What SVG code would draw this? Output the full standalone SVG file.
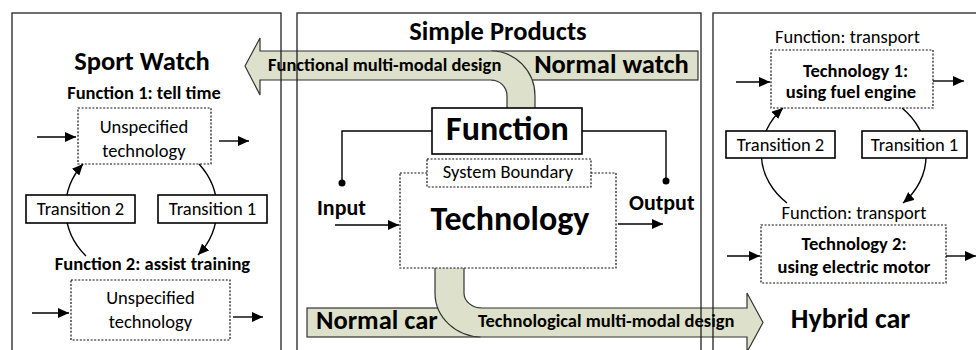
<svg xmlns="http://www.w3.org/2000/svg" width="976" height="350" viewBox="0 0 976 350">
  <style>
    text { font-family: Carlito, Lato, "Liberation Sans", sans-serif; fill: #000; }
    .b { font-weight: bold; }
    .c { text-anchor: middle; }
    .n18 { font-size: 18.5px; }
    .t26 { font-size: 26.5px; font-weight: bold; }
    .t34 { font-size: 34px; font-weight: bold; }
    .t22 { font-size: 22px; font-weight: bold; }
    .panel { fill: none; stroke: #222; stroke-width: 1.3; }
    .dot { fill: #fff; stroke: #111; stroke-width: 1.2; stroke-dasharray: 2 1.6; }
    .solid { fill: #fff; stroke: #000; stroke-width: 1.6; }
    .big { fill: #dde0ca; stroke: #333; stroke-width: 1.2; }
    .line { fill: none; stroke: #000; stroke-width: 1.4; }
    .arr { fill: none; stroke: #000; stroke-width: 1.4; marker-end: url(#head); }
  </style>
  <defs>
    <marker id="head" markerUnits="userSpaceOnUse" markerWidth="12" markerHeight="10" refX="11" refY="5" orient="auto">
      <path d="M0,0 L11,5 L0,10 Z" fill="#000"/>
    </marker>
  </defs>

  <rect width="976" height="350" fill="#fff"/>

  <!-- Big block arrows between panels -->
  <g id="functional-arrow">
    <rect class="big" x="492" y="51" width="206" height="29"/>
    <path class="big" d="M245,66 L260,38 L260,51 L491,51 A44,45 0 0 1 535,96 L535,113 L507,113 L507,96 A16,16 0 0 0 491,80 L260,80 L260,95 Z"/>
  </g>
  <g id="technological-arrow">
    <rect class="big" x="307" y="308" width="173" height="29"/>
    <path class="big" d="M435,253 L464,253 L464,293 A18,15 0 0 0 482,308 L747,308 L747,293 L763,322.5 L747,352 L747,337 L482,337 A47,44 0 0 1 435,293 Z"/>
  </g>

  <!-- Panel frames -->
  <g id="panels">
    <rect class="panel" x="12" y="13" width="269" height="360"/>
    <rect class="panel" x="297" y="13" width="404" height="360"/>
    <rect class="panel" x="713" y="13" width="290" height="360"/>
  </g>

  <g id="arrow-labels">
    <text class="b n18" x="268" y="71">Functional multi-modal design</text>
    <text class="t26 c" x="611.5" y="73">Normal watch</text>
    <text class="t26" x="316" y="329">Normal car</text>
    <text class="b n18" x="478" y="327">Technological multi-modal design</text>
  </g>

  <!-- Left panel: sport watch -->
  <g id="sport-watch">
    <text class="t26 c" x="142" y="70">Sport Watch</text>
    <text class="b n18 c" x="144" y="99">Function 1: tell time</text>
    <text class="b n18 c" x="152.5" y="270">Function 2: assist training</text>
  </g>
  <g id="watch-tech-1">
    <rect class="dot" x="78" y="108" width="133" height="56"/>
    <text class="n18 c" x="144" y="133">Unspecified</text>
    <text class="n18 c" x="144" y="157">technology</text>
  </g>
  <g id="watch-tech-2">
    <rect class="dot" x="71" y="280" width="159" height="60"/>
    <text class="n18 c" x="150.5" y="304">Unspecified</text>
    <text class="n18 c" x="150.5" y="328">technology</text>
  </g>

  <!-- Middle panel: simple products -->
  <g id="simple-products">
    <text class="t26 c" x="498" y="40">Simple Products</text>
    <text class="t22" x="317" y="215">Input</text>
    <text class="t22" x="629" y="210">Output</text>
  </g>
  <g id="technology">
    <rect class="dot" x="400" y="173" width="216" height="95"/>
    <text class="t34 c" x="510" y="230">Technology</text>
  </g>
  <g id="system-boundary">
    <rect class="dot" x="427" y="159" width="164" height="28"/>
    <text class="n18 c" x="508" y="178">System Boundary</text>
  </g>

  <!-- Right panel: hybrid car -->
  <g id="hybrid-car">
    <text class="n18 c" x="847.5" y="43">Function: transport</text>
    <text class="n18 c" x="854" y="219">Function: transport</text>
    <text class="t26 c" x="850.5" y="328" style="font-size:28px">Hybrid car</text>
  </g>
  <g id="car-tech-1">
    <rect class="dot" x="771" y="50" width="162" height="58"/>
    <text class="b n18 c" x="855.5" y="77">Technology 1:</text>
    <text class="b n18 c" x="851" y="98">using fuel engine</text>
  </g>
  <g id="car-tech-2">
    <rect class="dot" x="761" y="225" width="185" height="58"/>
    <text class="b n18 c" x="854" y="250">Technology 2:</text>
    <text class="b n18 c" x="854" y="273">using electric motor</text>
  </g>

  <!-- Connectors -->
  <g id="connectors">
    <!-- watch -->
    <path class="arr" d="M37,137 H76"/>
    <path class="arr" d="M219,141 H249"/>
    <path class="arr" d="M32,313 H69"/>
    <path class="arr" d="M233,317 H263"/>
    <path class="arr" d="M199,164 A74,69 0 0 1 198,255"/>
    <path class="arr" d="M86,256 A74,69 0 0 1 83,164"/>
    <!-- simple product -->
    <polyline class="line" points="432,131 342,131 342,183"/>
    <polyline class="line" points="582,131 666,131 666,181"/>
    <circle cx="342" cy="183" r="3.5" fill="#000"/>
    <circle cx="666" cy="181" r="3.5" fill="#000"/>
    <path class="arr" d="M335,225 H399"/>
    <path class="arr" d="M618,224 H663"/>
    <!-- car -->
    <path class="arr" d="M736,82 H770"/>
    <path class="arr" d="M933,81 H964"/>
    <path class="arr" d="M727,256 H760"/>
    <path class="arr" d="M946,256 H976"/>
    <path class="arr" d="M902,108 A80,67 0 0 1 903,203"/>
    <path class="arr" d="M787,203 A80,67 0 0 1 783,108"/>
  </g>

  <g id="function">
    <rect class="solid" x="432" y="108" width="150" height="46"/>
    <text class="t34 c" x="507.5" y="140">Function</text>
  </g>
  <g id="transition-w1">
    <rect class="solid" x="158" y="195" width="109" height="28"/>
    <text class="n18 c" x="212.5" y="215">Transition 1</text>
  </g>
  <g id="transition-w2">
    <rect class="solid" x="26" y="195" width="109" height="28"/>
    <text class="n18 c" x="80.5" y="215">Transition 2</text>
  </g>
  <g id="transition-c1">
    <rect class="solid" x="862" y="131" width="105" height="27"/>
    <text class="n18 c" x="914.5" y="151">Transition 1</text>
  </g>
  <g id="transition-c2">
    <rect class="solid" x="726" y="131" width="109" height="27"/>
    <text class="n18 c" x="780.5" y="151">Transition 2</text>
  </g>
</svg>
